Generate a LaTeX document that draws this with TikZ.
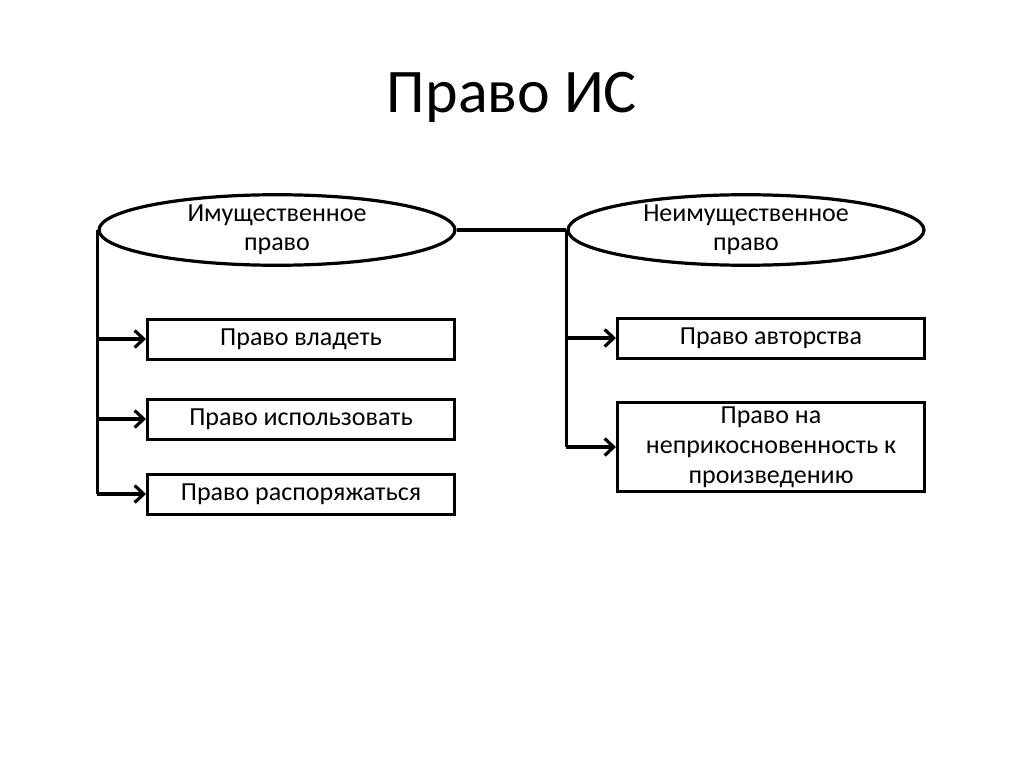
\documentclass[tikz,border=0pt]{standalone}
\usepackage{fontspec}
\setmainfont{Carlito}
\usetikzlibrary{shapes.geometric,arrows.meta}
\tikzset{
  ell/.style={ellipse,draw,line width=3.2pt,minimum width=356pt,minimum height=62pt,inner sep=0pt,align=center,font=\fontsize{26}{29}\selectfont},
  rbox/.style={rectangle,draw,line width=3pt,minimum width=307pt,inner sep=0pt,align=center,font=\fontsize{26}{30}\selectfont},
  conn/.style={line width=3.2pt},
  arr/.style={line width=3.2pt,-{Straight Barb[length=9pt,width=17pt,line width=3.2pt]}}
}
\begin{document}
\begin{tikzpicture}[x=1pt,y=-1pt]
\useasboundingbox (0,0) rectangle (1024,767);
\node (title) at (512,97) {\fontsize{62}{72}\selectfont Право ИС};
\node[ell] (e1) at (277,230) {Имущественное\\право};
\node[ell] (e2) at (746,230) {Неимущественное\\право};
\node[rbox,minimum height=40pt] (b1) at (301,339) {Право владеть};
\node[rbox,minimum height=40pt] (b2) at (301,419) {Право использовать};
\node[rbox,minimum height=40pt] (b3) at (301,494) {Право распоряжаться};
\node[rbox,minimum height=40pt] (c1) at (771,338) {Право авторства};
\node[rbox,minimum height=89pt] (c2) at (771,447) {Право на\\неприкосновенность к\\произведению};
\draw[conn] (e1.east) -- (e2.west);
\coordinate (l0) at (e1.west);
\draw[conn] (l0) -- (l0 |- b3.west);
\draw[arr] (l0 |- b1.west) -- (b1.west);
\draw[arr] (l0 |- b2.west) -- (b2.west);
\draw[arr] (l0 |- b3.west) -- (b3.west);
\coordinate (r0) at (e2.west);
\draw[conn] (r0) -- (r0 |- c2.west);
\draw[arr] (r0 |- c1.west) -- (c1.west);
\draw[arr] (r0 |- c2.west) -- (c2.west);
\end{tikzpicture}
\end{document}
